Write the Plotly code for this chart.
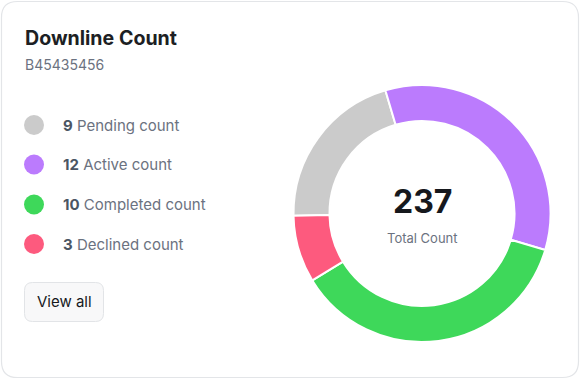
import plotly.graph_objects as go

# ---- data ----
categories = ["Pending", "Active", "Completed", "Declined"]
legend_counts = [9, 12, 10, 3]
legend_labels = ["Pending count", "Active count", "Completed count", "Declined count"]
slice_values = [49, 81, 87, 20]
colors = ["#cbcbcb", "#bb7bfd", "#3ed85a", "#fd5a7e"]
total_label = "237"
title_text = "Downline Count"
subtitle_text = "B45435456"

W, H = 580, 379
FONT = "Inter"

fig = go.Figure()

# donut (domain in paper coordinates)
cx, cy, r = 422, 213.5, 128.5
fig.add_trace(go.Pie(
    labels=categories,
    values=slice_values,
    marker=dict(colors=colors, line=dict(color="white", width=2)),
    hole=0.72,
    sort=False,
    direction="clockwise",
    rotation=269,
    textinfo="none",
    hoverinfo="label+value",
    showlegend=False,
    domain=dict(x=[(cx - r) / W, (cx + r) / W], y=[(H - cy - r) / H, (H - cy + r) / H]),
))

# invisible pixel axes
fig.update_xaxes(range=[0, W], visible=False, fixedrange=True)
fig.update_yaxes(range=[H, 0], visible=False, fixedrange=True)

shapes = []
# card outline with rounded corners
x0, y0, x1, y1, rr = 1.5, 1.5, 578.5, 377.5, 16
card = (f"M {x0+rr},{y0} L {x1-rr},{y0} Q {x1},{y0} {x1},{y0+rr} "
        f"L {x1},{y1-rr} Q {x1},{y1} {x1-rr},{y1} L {x0+rr},{y1} "
        f"Q {x0},{y1} {x0},{y1-rr} L {x0},{y0+rr} Q {x0},{y0} {x0+rr},{y0} Z")
shapes.append(dict(type="path", path=card, xref="x", yref="y",
                   line=dict(color="#e3e5e8", width=1.2), fillcolor="rgba(0,0,0,0)", layer="below"))

# button
bx0, by0, bx1, by1, br = 24.5, 282.5, 103.5, 321.5, 8
btn = (f"M {bx0+br},{by0} L {bx1-br},{by0} Q {bx1},{by0} {bx1},{by0+br} "
       f"L {bx1},{by1-br} Q {bx1},{by1} {bx1-br},{by1} L {bx0+br},{by1} "
       f"Q {bx0},{by1} {bx0},{by1-br} L {bx0},{by0+br} Q {bx0},{by0} {bx0+br},{by0} Z")
shapes.append(dict(type="path", path=btn, xref="x", yref="y",
                   line=dict(color="#e2e4e7", width=1), fillcolor="#f8f8f9", layer="below"))

annotations = []
legend_y = [125, 164.5, 204.5, 244]
for i, (cnt, lab, col) in enumerate(zip(legend_counts, legend_labels, colors)):
    yy = legend_y[i]
    shapes.append(dict(type="circle", xref="x", yref="y",
                       x0=24, x1=44, y0=yy - 10, y1=yy + 10,
                       fillcolor=col, line=dict(width=0), layer="above"))
    annotations.append(dict(
        x=60.5, y=yy, xref="x", yref="y", xanchor="left", yanchor="middle", showarrow=False,
        text=f"<b><span style='color:#4b5563'>{cnt}</span></b> {lab}",
        font=dict(family=FONT, size=15, color="#6b7280"),
    ))

annotations += [
    dict(x=23, y=38, xref="x", yref="y", xanchor="left", yanchor="middle", showarrow=False,
         text=f"<b>{title_text}</b>", font=dict(family=FONT, size=19.6, color="#1d1f24")),
    dict(x=23, y=64, xref="x", yref="y", xanchor="left", yanchor="middle", showarrow=False,
         text=subtitle_text, font=dict(family=FONT, size=14, color="#6b7280")),
    dict(x=64, y=301.5, xref="x", yref="y", xanchor="center", yanchor="middle", showarrow=False,
         text="View all", font=dict(family=FONT, size=15, color="#16181d")),
    dict(x=cx, y=201, xref="x", yref="y", xanchor="center", yanchor="middle", showarrow=False,
         text=f"<b>{total_label}</b>", font=dict(family=FONT, size=32, color="#16181d")),
    dict(x=cx, y=238, xref="x", yref="y", xanchor="center", yanchor="middle", showarrow=False,
         text="Total Count", font=dict(family=FONT, size=13, color="#6b7280")),
]

fig.update_layout(
    width=W, height=H,
    margin=dict(l=0, r=0, t=0, b=0),
    paper_bgcolor="white", plot_bgcolor="white",
    shapes=shapes, annotations=annotations,
    showlegend=False,
)

fig.write_html(
    "out.html",
    config={"displayModeBar": False},
    post_script="document.body.style.margin='0';document.body.style.overflow='hidden';",
)
